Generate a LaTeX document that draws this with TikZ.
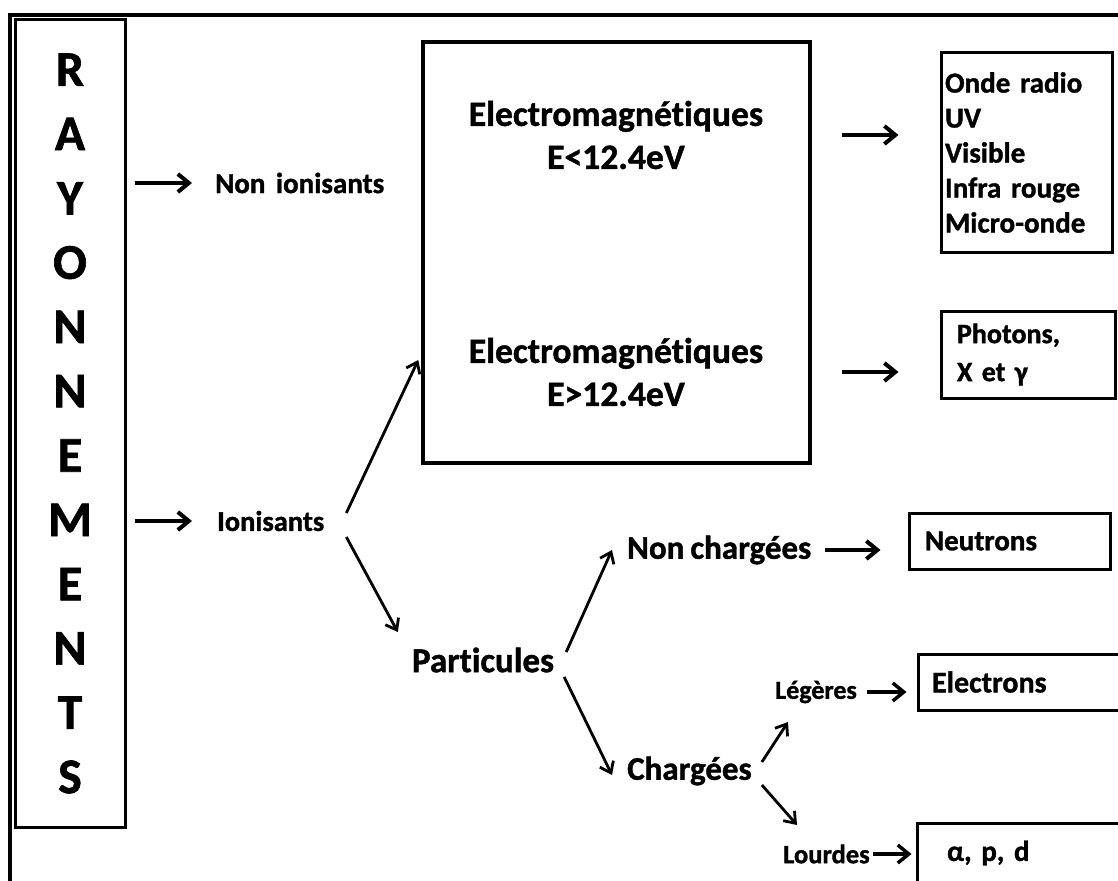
\documentclass[tikz,border=0pt]{standalone}
\usepackage{fontspec}
\setmainfont{Carlito}[Ligatures=NoCommon, WordSpace=0.8, BoldFeatures={FakeBold=1.2}]
\usetikzlibrary{arrows.meta}

\newcommand{\fsize}[2]{\fontsize{#1}{#2}\selectfont}

\begin{document}
\begin{tikzpicture}[x=1pt, y=-1pt,
	harr/.style={-{Straight Barb[length=11pt, width=18pt]}, line width=4pt},
	darr/.style={-{Straight Barb[length=10pt, width=15pt]}, line width=2.8pt},
	rbox/.style={draw=black, line width=3pt, align=left, inner ysep=0pt},
	lbl/.style={inner sep=0pt, anchor=west}]
	\useasboundingbox (0,0) rectangle (1118,880);

	% frame
	\draw [line width=4pt] (1122,15) -| (10,884);

	\draw (70,423.5) node[draw=black,
					 line width=3pt,
					 minimum width=110pt,
					 minimum height=807pt,
					 align=center,
					 font=\bfseries\fsize{50}{64.3}](rayo){R\\A\\Y\\O\\N\\N\\E\\M\\E\\N\\T\\S};

	\draw (215,183) node[lbl, font=\bfseries\fsize{29}{35}](nonion){Non\ \ ionisants};
	\draw (217,521) node[lbl, font=\bfseries\fsize{28.5}{35}](ion){Ionisants};

	\draw [harr, shorten <=8pt, shorten >=23pt](rayo.east |- nonion.west) -- (nonion.west);
	\draw [harr, shorten <=8pt, shorten >=25pt](rayo.east |- ion.west) -- (ion.west);

	% electromagnetiques
	\draw (616.5,252.5) node[draw=black,
					 line width=3.5pt,
					 minimum width=387pt,
					 minimum height=421pt](bigbox){};
	\draw (616,135) node[align=center, font=\bfseries\fsize{35.6}{43}](em1){Electromagnétiques\\E<12.4eV};
	\draw (616,372) node[align=center, font=\bfseries\fsize{35.6}{43}](em2){Electromagnétiques\\E>12.4eV};

	\draw (1026.5,152.5) node[rbox,
					 minimum width=171pt,
					 minimum height=199pt,
					 text width=163pt,
					 inner xsep=4pt,
					 font=\bfseries\fsize{29}{35}](onde){Onde radio\\UV\\Visible\\Infra rouge\\Micro-onde};
	\draw (1028,354.5) node[rbox,
					 minimum width=174pt,
					 minimum height=87pt,
					 text width=142pt,
					 inner xsep=16pt,
					 font=\bfseries\fsize{28}{38}](photons){Photons,\\X et γ};

	\draw [harr, shorten <=30pt, shorten >=41pt](bigbox.east |- em1) -- (onde.west |- em1);
	\draw [harr, shorten <=30pt, shorten >=41pt](bigbox.east |- em2) -- (photons.west |- em2);

	% particules
	\draw (483,660) node[inner sep=0pt, font=\bfseries\fsize{35}{43}](part){Particules};
	\draw (627,550) node[lbl, font=\bfseries\fsize{33}{40}](nonch){Non chargées};
	\draw (627,771) node[lbl, font=\bfseries\fsize{33}{40}](charg){Chargées};
	\draw (775,692) node[lbl, font=\bfseries\fsize{26}{32}](leg){Légères};
	\draw (783,854) node[lbl, font=\bfseries\fsize{26.5}{32}](lourd){Lourdes};

	\draw (1009.5,541) node[rbox,
					 minimum width=201pt,
					 minimum height=56pt,
					 text width=169pt,
					 inner xsep=16pt,
					 font=\bfseries\fsize{29}{35}](neut){Neutrons};
	\draw (1021.5,682) node[rbox,
					 minimum width=207pt,
					 minimum height=56pt,
					 text width=179pt,
					 inner xsep=14pt,
					 font=\bfseries\fsize{30}{35}](elec){Electrons};
	\draw (1021,853) node[rbox,
					 minimum width=208pt,
					 minimum height=60pt,
					 text width=148pt,
					 inner xsep=30pt,
					 font=\bfseries\fsize{29}{35}](apd){α, p, d};

	\draw [darr]([xshift=22pt, yshift=8pt]ion.east) -- ([xshift=-3pt, yshift=-107.5pt]bigbox.west);
	\draw [darr]([xshift=22pt, yshift=-16pt]ion.east) -- ([xshift=-14pt, yshift=28pt]part.west);
	\draw [darr]([xshift=12pt, yshift=8pt]part.east) -- ([xshift=-15pt]nonch.west);
	\draw [darr]([xshift=10pt, yshift=-17pt]part.east) -- ([xshift=-15pt, yshift=-4pt]charg.west);
	\draw [darr]([xshift=10pt, yshift=9pt]charg.east) -- ([xshift=13pt, yshift=-30pt]leg.west);
	\draw [darr]([xshift=10pt, yshift=-14pt]charg.east) -- ([xshift=14pt, yshift=29pt]lourd.west);

	\draw [harr, shorten <=14pt, shorten >=27pt](nonch.east) -- (nonch.east -| neut.west);
	\draw [harr, line width=3.5pt, shorten <=10pt, shorten >=10pt](leg.east) -- (leg.east -| elec.west);
	\draw [harr, line width=3.5pt, shorten <=3pt, shorten >=4pt](lourd.east) -- (lourd.east -| apd.west);
\end{tikzpicture}
\end{document}
